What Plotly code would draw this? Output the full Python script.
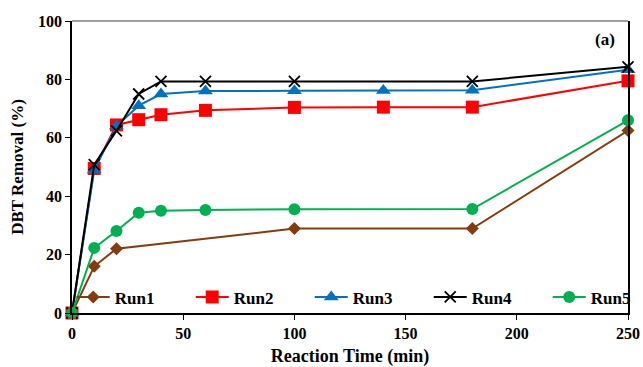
import plotly.graph_objects as go

# Reaction time (min) sampled for each run
t_run1 = [0, 10, 20, 100, 180, 250]
t_run2 = [0, 10, 20, 30, 40, 60, 100, 140, 180, 250]
t_run3 = [0, 10, 20, 30, 40, 60, 100, 140, 180, 250]
t_run4 = [0, 10, 20, 30, 40, 60, 100, 180, 250]
t_run5 = [0, 10, 20, 30, 40, 60, 100, 180, 250]

# DBT removal (%)
run1 = [0, 16.0, 22.0, 28.9, 28.9, 62.5]
run2 = [0, 49.5, 64.4, 66.2, 67.9, 69.4, 70.4, 70.5, 70.5, 79.5]
run3 = [0, 49.0, 64.0, 71.0, 75.0, 76.0, 76.1, 76.2, 76.3, 83.3]
run4 = [0, 50.8, 62.4, 75.0, 79.3, 79.3, 79.3, 79.3, 84.3]
run5 = [0, 22.3, 28.1, 34.3, 35.0, 35.3, 35.5, 35.6, 66.0]

series_names = ["Run1", "Run2", "Run3", "Run4", "Run5"]
x_ticks = [0, 50, 100, 150, 200, 250]
y_ticks = [0, 20, 40, 60, 80, 100]

SERIF = "Liberation Serif"

styles = [
    dict(color="#843C0C", symbol="diamond", size=10),
    dict(color="#FF0000", symbol="square", size=13),
    dict(color="#0070C0", symbol="triangle-up", size=13),
    dict(color="#000000", symbol="x-thin", size=11),
    dict(color="#00B050", symbol="circle", size=12),
]

fig = go.Figure()
for name, xs, ys, st in zip(series_names,
                            [t_run1, t_run2, t_run3, t_run4, t_run5],
                            [run1, run2, run3, run4, run5], styles):
    marker = dict(symbol=st["symbol"], size=st["size"], color=st["color"])
    if st["symbol"] == "x-thin":
        marker["line"] = dict(color=st["color"], width=1.8)
    fig.add_trace(go.Scatter(
        x=xs, y=ys, name=name, mode="lines+markers",
        line=dict(color=st["color"], width=2),
        marker=marker, cliponaxis=False,
    ))

fig.update_layout(
    width=643, height=367,
    margin=dict(l=72, r=15, t=21, b=54, autoexpand=False),
    plot_bgcolor="white", paper_bgcolor="white",
    font=dict(family=SERIF, color="black"),
    showlegend=True,
    legend=dict(
        orientation="h", x=-0.0005, y=-0.008, xanchor="left", yanchor="bottom",
        bgcolor="rgba(0,0,0,0)", entrywidth=71, itemwidth=33,
        font=dict(family=SERIF, size=17, color="black", weight="bold"),
    ),
    xaxis=dict(
        range=[0, 250], tickvals=x_ticks, showgrid=False, zeroline=False,
        showline=True, linecolor="black", linewidth=1.5,
        ticks="outside", ticklen=5, tickcolor="black",
        tickfont=dict(family=SERIF, size=16, weight="bold"),
        title=dict(text="Reaction Time (min)", standoff=17,
                   font=dict(family=SERIF, size=18, weight="bold")),
    ),
    yaxis=dict(
        range=[0, 100], tickvals=y_ticks, showgrid=False, zeroline=False,
        showline=True, linecolor="black", linewidth=1.5, mirror=True,
        ticks="outside", ticklen=5, tickcolor="black",
        tickfont=dict(family=SERIF, size=16, weight="bold"),
        title=dict(text="DBT Removal (%)", standoff=10,
                   font=dict(family=SERIF, size=17, weight="bold")),
    ),
    shapes=[dict(type="line", xref="paper", yref="paper", x0=0, x1=1,
                 y0=1, y1=1, line=dict(color="#7F7F7F", width=1.5))],
    annotations=[dict(text="(a)", xref="paper", yref="paper", x=0.98, y=0.935,
                      xanchor="right", yanchor="middle", showarrow=False,
                      font=dict(family=SERIF, size=17, weight="bold"))],
)

fig.write_html("out.html")
